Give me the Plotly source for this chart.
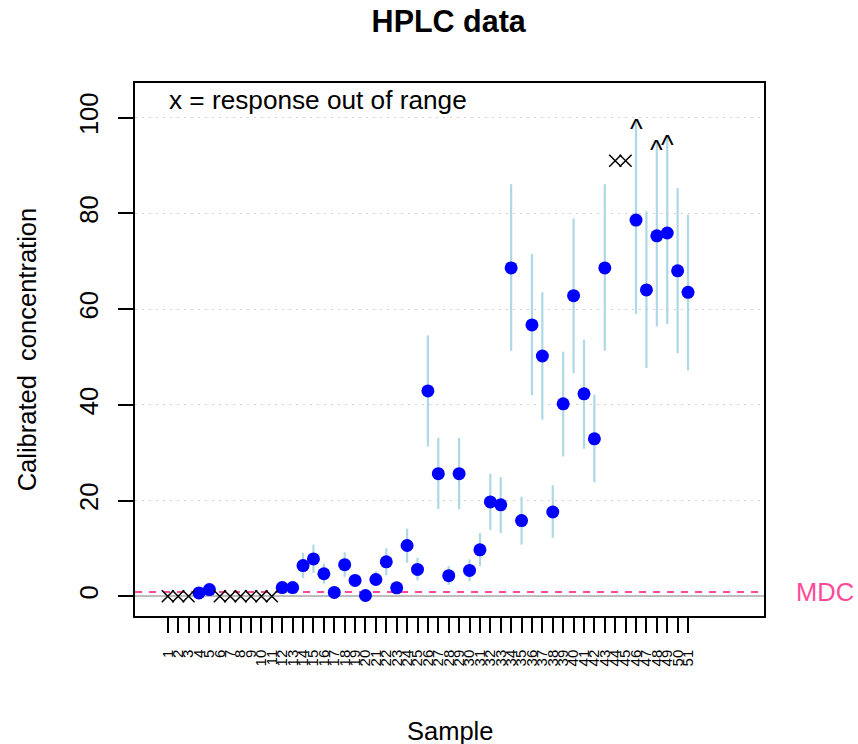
import plotly.graph_objects as go

# ---- data -------------------------------------------------------------
samples = list(range(1, 52))

# calibrated concentration per sample (None = response out of range)
conc = [None, None, None, 0.7, 1.4, None, None, None, None, None,
        None, 1.8, 1.8, 6.4, 7.8, 4.7, 0.8, 6.6, 3.3, 0.15,
        3.5, 7.2, 1.75, 10.6, 5.6, 42.9, 25.6, 4.3, 25.6, 5.4,
        9.7, 19.7, 19.1, 68.6, 15.8, 56.7, 50.2, 17.6, 40.2, 62.8,
        42.3, 32.9, 68.6, None, None, 78.6, 64.0, 75.3, 75.9, 68.0,
        63.5]

conc_lower = [None, None, None, 0.5, 1.1, None, None, None, None, None,
              None, 1.4, 1.4, 3.8, 4.9, 2.65, 0.6, 4.05, 2.1, 0.0,
              2.4, 4.4, 1.1, 7.0, 3.3, 31.3, 18.2, 2.4, 18.2, 3.1,
              6.3, 13.8, 13.2, 51.3, 10.8, 42.0, 36.9, 12.2, 29.2, 46.6,
              30.8, 23.8, 51.3, None, None, 59.0, 47.7, 56.4, 56.9, 50.8,
              47.2]

conc_upper = [None, None, None, 0.9, 1.7, None, None, None, None, None,
              None, 2.2, 2.2, 9.1, 10.8, 6.8, 1.0, 9.2, 4.5, 0.3,
              5.2, 10.0, 2.4, 14.1, 8.0, 54.5, 33.1, 6.3, 33.1, 7.7,
              13.2, 25.6, 24.9, 86.1, 20.8, 71.5, 63.5, 23.2, 51.1, 78.9,
              53.6, 42.1, 86.1, None, None, 99.2, 80.4, 95.0, 96.0, 85.3,
              79.7]

# responses below / above the calibrated range
low_out_samples = [1, 2, 3, 6, 7, 8, 9, 10, 11]
low_out_level = 0
high_out_samples = [44, 45]
high_out_level = 91

# samples whose upper interval runs past the reporting limit
capped_samples = [46, 48, 49]

MDC = 0.9

# ---- styling ------------------------------------------------------------
FONT = "Liberation Sans, Arial, Helvetica, sans-serif"
BASE = 25.5
PINK = "#ff4a9a"

obs = [(s, c, lo, up) for s, c, lo, up in zip(samples, conc, conc_lower, conc_upper) if c is not None]
xs = [o[0] for o in obs]
ys = [o[1] for o in obs]
err_plus = [o[3] - o[1] for o in obs]
err_minus = [o[1] - o[2] for o in obs]

fig = go.Figure()

fig.add_hline(y=MDC, line=dict(color=PINK, width=2, dash="7px,7px"), layer="below")

fig.add_trace(go.Scatter(
    x=xs, y=ys, mode="markers",
    marker=dict(color="#0000ff", size=13, line=dict(width=0)),
    error_y=dict(type="data", symmetric=False, array=err_plus, arrayminus=err_minus,
                 color="#add8e6", thickness=2.2, width=0),
    showlegend=False, hoverinfo="x+y",
))

out_marker = dict(symbol="x-thin", size=12, line=dict(color="black", width=1.5))
fig.add_trace(go.Scatter(
    x=low_out_samples, y=[low_out_level] * len(low_out_samples), mode="markers",
    marker=out_marker, showlegend=False,
))
fig.add_trace(go.Scatter(
    x=high_out_samples, y=[high_out_level] * len(high_out_samples), mode="markers",
    marker=out_marker, showlegend=False,
))

capped_tops = [conc_upper[s - 1] for s in capped_samples]
for s, top in zip(capped_samples, capped_tops):
    fig.add_annotation(x=s, y=top, text="^", showarrow=False, xanchor="center",
                       yanchor="middle", yshift=-8,
                       font=dict(family=FONT, size=27, color="black"))

fig.add_annotation(xref="paper", yref="y", x=0.0505, y=103.6, text="x = response out of range",
                   showarrow=False, xanchor="left", yanchor="middle",
                   font=dict(family=FONT, size=26.2, color="black"))

fig.add_annotation(xref="paper", yref="y", x=1.048, y=MDC, text="MDC",
                   showarrow=False, xanchor="left", yanchor="middle",
                   font=dict(family=FONT, size=BASE, color=PINK))

# axis titles
fig.add_annotation(xref="paper", yref="paper", x=0.5, y=-0.215, text="Sample",
                   showarrow=False, xanchor="center", yanchor="middle",
                   font=dict(family=FONT, size=BASE, color="black"))
fig.add_annotation(xref="paper", yref="paper", x=-0.172, y=0.5, text="Calibrated  concentration",
                   showarrow=False, xanchor="center", yanchor="middle", textangle=-90,
                   font=dict(family=FONT, size=BASE, color="black"))

fig.update_layout(
    template="none",
    width=858, height=744,
    margin=dict(l=135, r=94, t=83, b=128, pad=0),
    paper_bgcolor="white", plot_bgcolor="white",
    title=dict(text="<b>HPLC data</b>", x=0.523, xanchor="center", y=0.971, yanchor="middle",
               yref="container", font=dict(family=FONT, size=30.5, color="black")),
    showlegend=False,
    font=dict(family=FONT, color="black"),
)

fig.update_xaxes(
    range=[-2.15, 58.3], tickmode="array", tickvals=samples, ticktext=[str(s) for s in samples],
    tickangle=-90, ticks="outside", ticklen=15, tickwidth=1.5, tickcolor="black",
    tickfont=dict(family=FONT, size=15, color="black"), ticklabelstandoff=11,
    showline=True, linecolor="black", linewidth=1.5, mirror=True,
    showgrid=False, zeroline=False, automargin=False,
)
fig.update_yaxes(
    range=[-4.13, 107.24], tickmode="array", tickvals=[0, 20, 40, 60, 80, 100],
    tickangle=-90, ticks="outside", ticklen=15, tickwidth=1.5, tickcolor="black",
    tickfont=dict(family=FONT, size=BASE, color="black"), ticklabelstandoff=10,
    showline=True, linecolor="black", linewidth=1.5, mirror=True,
    showgrid=True, gridcolor="#d3d3d3", gridwidth=1.2, griddash="2px,5px",
    zeroline=True, zerolinecolor="#bebebe", zerolinewidth=2, automargin=False,
)

fig.write_html("out.html")
